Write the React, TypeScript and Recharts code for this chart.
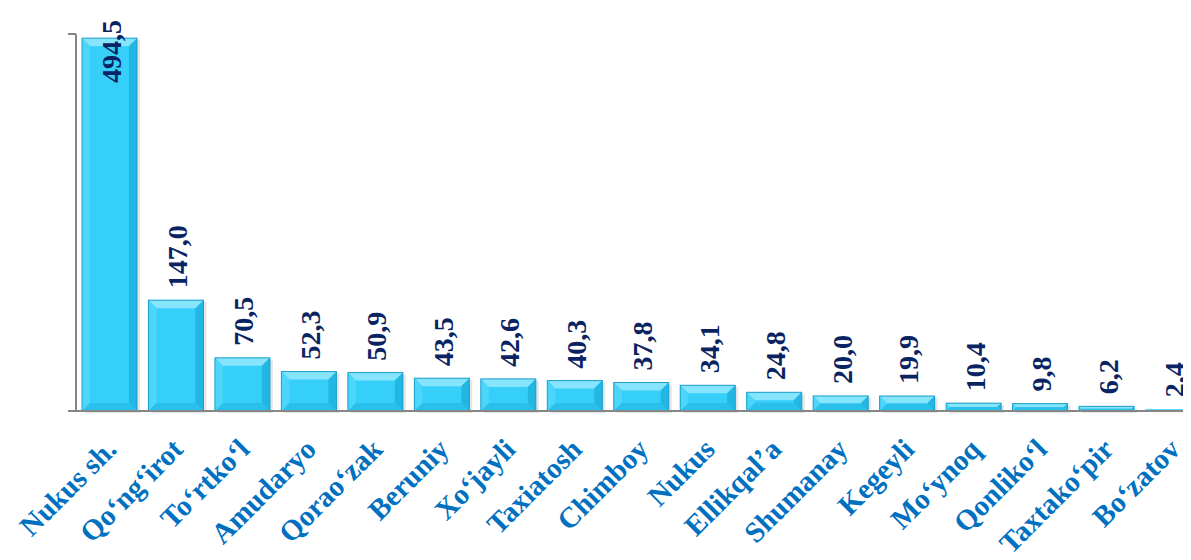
import React from 'react';
import { BarChart, Bar, XAxis, YAxis, LabelList } from 'recharts';

// districts, left to right
const districts = [
  'Nukus sh.',
  'Qo‘ng‘irot',
  'To‘rtko‘l',
  'Amudaryo',
  'Qorao‘zak',
  'Beruniy',
  'Xo‘jayli',
  'Taxiatosh',
  'Chimboy',
  'Nukus',
  'Ellikqal’a',
  'Shumanay',
  'Kegeyli',
  'Mo‘ynoq',
  'Qonliko‘l',
  'Taxtako‘pir',
  'Bo‘zatov',
];

const values = [494.5, 147.0, 70.5, 52.3, 50.9, 43.5, 42.6, 40.3, 37.8, 34.1, 24.8, 20.0, 19.9, 10.4, 9.8, 6.2, 2.4];

const yTicks = [0, 500];

const data = districts.map((name, i) => ({ name, value: values[i] }));

const FONT = '"Liberation Serif", "Times New Roman", serif';
const LABEL_SIZE = 28;

function BevelBar(props: any) {
  const { x, y, width: w, height: h } = props;
  if (!h || h <= 0) return null;
  const b = Math.min(8, h / 2, w / 2);
  const pts = (arr: number[][]) => arr.map((p) => p.join(',')).join(' ');
  const small = h < 4;
  return (
    <g>
      {!small && <rect x={x + 3} y={y + 2} width={w} height={h} fill="#000" opacity={0.1} />}
      <rect x={x} y={y} width={w} height={h} fill="#36CFFA" />
      {!small && (
        <>
          <polygon points={pts([[x, y], [x + w, y], [x + w - b, y + b], [x + b, y + b]])} fill="#86E4FD" />
          <polygon points={pts([[x, y], [x + b, y + b], [x + b, y + h - b], [x, y + h]])} fill="#4DD6FB" />
          <polygon points={pts([[x + w, y], [x + w - b, y + b], [x + w - b, y + h - b], [x + w, y + h]])} fill="#22B6E3" />
          <polygon points={pts([[x, y + h], [x + w, y + h], [x + w - b, y + h - b], [x + b, y + h - b]])} fill="#2AC0EC" />
          <rect x={x} y={y} width={w} height={h} fill="none" stroke="#1C9FCB" strokeWidth={1} />
        </>
      )}
    </g>
  );
}

function ValueLabel(props: any) {
  const { x, y, width, value } = props;
  const text = Number(value).toFixed(1).replace('.', ',');
  const len = LABEL_SIZE * (0.5 * (text.length - 1) + 0.25);
  const cx = x + width / 2 + 11;
  let start = y - 12;
  if (start - len < 10) start = 12 + len;
  return (
    <text
      x={cx}
      y={start}
      transform={`rotate(-90 ${cx} ${start})`}
      textAnchor="start"
      fill="#0A2463"
      fontFamily={FONT}
      fontWeight="bold"
      fontSize={LABEL_SIZE}
    >
      {text}
    </text>
  );
}

function CategoryTick(props: any) {
  const { x, y, payload } = props;
  const ax = x + 9;
  const ay = y + 32;
  return (
    <text
      x={ax}
      y={ay}
      transform={`rotate(-45 ${ax} ${ay})`}
      textAnchor="end"
      fill="#0070C0"
      fontFamily={FONT}
      fontWeight="bold"
      fontSize={29}
    >
      {payload.value}
    </text>
  );
}

export default function App() {
  return (
    <div style={{ width: 1183, height: 552, overflow: 'hidden', background: '#fff' }}>
      <BarChart
        width={1212}
        height={552}
        data={data}
        margin={{ top: 26, right: 14, bottom: 0, left: 60 }}
      >
        <YAxis
          domain={[0, 500]}
          ticks={yTicks}
          width={8}
          tickSize={8}
          tick={() => <g />}
          axisLine={{ stroke: '#868686', strokeWidth: 2 }}
          tickLine={{ stroke: '#868686', strokeWidth: 2 }}
        />
        <XAxis
          dataKey="name"
          interval={0}
          height={149}
          tickLine={false}
          tick={<CategoryTick />}
          axisLine={{ stroke: '#868686', strokeWidth: 2 }}
        />
        <Bar dataKey="value" barSize={55} shape={<BevelBar />} isAnimationActive={false}>
          <LabelList dataKey="value" content={<ValueLabel />} />
        </Bar>
      </BarChart>
    </div>
  );
}
